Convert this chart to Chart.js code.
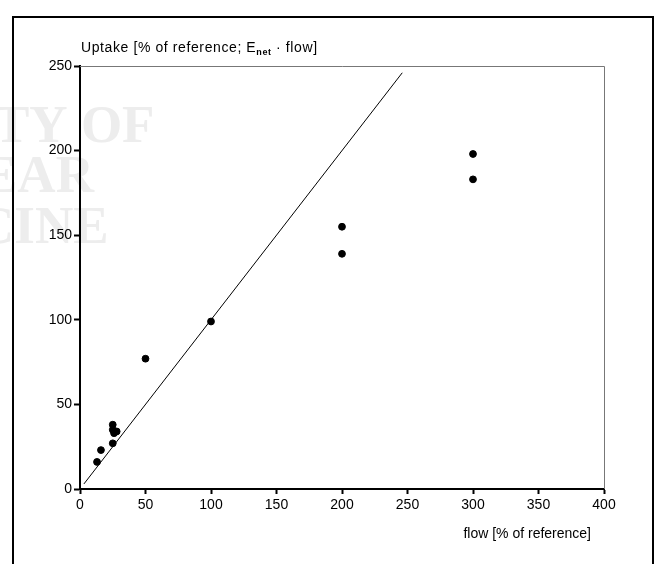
<!DOCTYPE html>
<html>
<head>
<meta charset="utf-8">
<script src="https://cdn.jsdelivr.net/npm/chart.js@4.4.0/dist/chart.umd.min.js"></script>
<style>
  html, body { margin: 0; padding: 0; background: #fff; }
  #wrap { width: 660px; height: 564px; position: relative; }
</style>
</head>
<body>
<div id="wrap"><canvas id="myChart" width="660" height="564"></canvas></div>
<script>
// Uptake vs flow scatter
var flow = [13, 16, 25, 25, 25, 26, 28, 50, 100, 200, 200, 300, 300];
var uptake = [16, 23, 27, 38, 35, 33, 34, 77, 99, 155, 139, 198, 183];
var identityX = [3, 246];
var identityY = [3, 246];
var xTicks = [0, 50, 100, 150, 200, 250, 300, 350, 400];
var yTicks = [0, 50, 100, 150, 200, 250];

var points = flow.map(function (f, i) { return { x: f, y: uptake[i] }; });
var line = identityX.map(function (v, i) { return { x: v, y: identityY[i] }; });

var fontFam = "'Liberation Sans', Arial, sans-serif";

// frame, top/right border, titles, faint stamp
var extras = {
    id: 'extras',
    beforeDraw: function (chart) {
        var c = chart.ctx;
        c.save();
        c.fillStyle = '#ededed';
        c.font = "bold 53px 'Liberation Serif', serif";
        c.textBaseline = 'alphabetic';
        c.fillText('TY OF', -6, 142);
        c.fillText('EAR', -18, 192);
        c.fillText('CINE', -24, 243);
        c.restore();
    },
    afterDraw: function (chart) {
        var c = chart.ctx;
        var a = chart.chartArea;
        c.save();
        c.strokeStyle = '#000';
        c.lineWidth = 2;
        c.beginPath();
        c.moveTo(13, 570);
        c.lineTo(13, 17);
        c.lineTo(653, 17);
        c.lineTo(653, 570);
        c.stroke();

        c.strokeStyle = '#777';
        c.lineWidth = 1;
        c.beginPath();
        c.moveTo(a.left, a.top + 0.5);
        c.lineTo(a.right + 0.5, a.top + 0.5);
        c.lineTo(a.right + 0.5, a.bottom);
        c.stroke();

        c.fillStyle = '#000';
        c.textBaseline = 'alphabetic';
        c.letterSpacing = '0.6px';
        c.font = '14px ' + fontFam;
        var t = 'Uptake [% of reference; E';
        var x = 81, y = 52;
        c.fillText(t, x, y);
        x += c.measureText(t).width;
        c.font = 'bold 9px ' + fontFam;
        c.fillText('net', x, y + 3);
        x += c.measureText('net').width;
        c.font = '14px ' + fontFam;
        c.fillText(' \u00b7 flow]', x, y);

        c.letterSpacing = '0px';
        c.textAlign = 'right';
        c.fillText('flow [% of reference]', 591, 538);
        c.restore();
    }
};

var ctx = document.getElementById('myChart').getContext('2d');

var myChart = new Chart(ctx, {
    type: 'scatter',
    data: {
        datasets: [{
            label: 'measured',
            data: points,
            backgroundColor: '#000',
            borderColor: '#000',
            pointRadius: 3.4,
            pointHoverRadius: 3.4
        }, {
            type: 'line',
            label: 'identity',
            data: line,
            borderColor: '#000',
            borderWidth: 1,
            pointRadius: 0,
            fill: false
        }]
    },
    plugins: [extras],
    options: {
        responsive: false,
        animation: false,
        events: [],
        layout: {
            padding: { left: 0, top: 66, right: 56, bottom: 0 }
        },
        plugins: {
            legend: { display: false },
            tooltip: { enabled: false }
        },
        scales: {
            x: {
                type: 'linear',
                min: 0,
                max: 400,
                afterBuildTicks: function (s) { s.ticks = xTicks.map(function (v) { return { value: v }; }); },
                afterFit: function (s) { s.height = 75; },
                ticks: {
                    color: '#000',
                    font: { size: 14, family: fontFam },
                    padding: 3,
                    maxRotation: 0
                },
                grid: {
                    drawOnChartArea: false,
                    tickLength: 5,
                    tickWidth: 2,
                    tickColor: '#000'
                },
                border: { color: '#000', width: 2 }
            },
            y: {
                type: 'linear',
                min: 0,
                max: 250,
                afterBuildTicks: function (s) { s.ticks = yTicks.map(function (v) { return { value: v }; }); },
                afterFit: function (s) { s.width = 80; },
                ticks: {
                    color: '#000',
                    font: { size: 14, family: fontFam },
                    padding: 2
                },
                grid: {
                    drawOnChartArea: false,
                    tickLength: 6,
                    tickWidth: 2,
                    tickColor: '#000'
                },
                border: { color: '#000', width: 2 }
            }
        }
    }
});
</script>
</body>
</html>
